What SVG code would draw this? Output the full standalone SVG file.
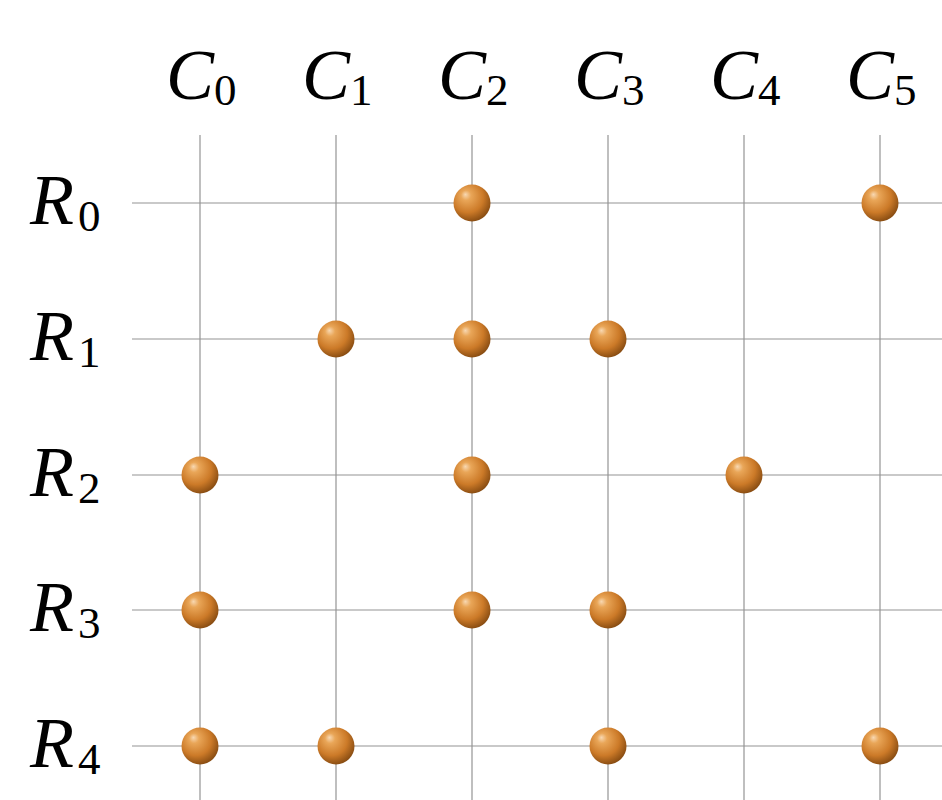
<svg xmlns="http://www.w3.org/2000/svg" width="942" height="800" viewBox="0 0 942 800">
<style>
.grid line{stroke:#949494;stroke-width:1.2}
.lbl{font-family:"Liberation Serif","DejaVu Serif",serif;font-size:72px;fill:#000}
.main{font-style:italic}
.sub{font-size:45px}
.ball{fill:url(#bg)}
</style>
<defs>
<radialGradient id="bg" cx="0.42" cy="0.38" r="0.68" fx="0.32" fy="0.27">
<stop offset="0" stop-color="#f8d8b2"/>
<stop offset="0.2" stop-color="#e9a658"/>
<stop offset="0.62" stop-color="#cc7a28"/>
<stop offset="1" stop-color="#7c440e"/>
</radialGradient>
</defs>
<rect width="942" height="800" fill="#fff"/>
<g id="connectors" class="grid">
<line x1="200" y1="135" x2="200" y2="800"/>
<line x1="336" y1="135" x2="336" y2="800"/>
<line x1="472" y1="135" x2="472" y2="800"/>
<line x1="608" y1="135" x2="608" y2="800"/>
<line x1="744" y1="135" x2="744" y2="800"/>
<line x1="880" y1="135" x2="880" y2="800"/>
<line x1="132" y1="203" x2="942" y2="203"/>
<line x1="132" y1="339" x2="942" y2="339"/>
<line x1="132" y1="475" x2="942" y2="475"/>
<line x1="132" y1="610" x2="942" y2="610"/>
<line x1="132" y1="746" x2="942" y2="746"/>
</g>
<g id="col-labels">
<text id="C0" class="lbl" x="166" y="99"><tspan class="main">C</tspan><tspan class="sub" dy="6">0</tspan></text>
<text id="C1" class="lbl" x="302" y="99"><tspan class="main">C</tspan><tspan class="sub" dy="6">1</tspan></text>
<text id="C2" class="lbl" x="438" y="99"><tspan class="main">C</tspan><tspan class="sub" dy="6">2</tspan></text>
<text id="C3" class="lbl" x="574" y="99"><tspan class="main">C</tspan><tspan class="sub" dy="6">3</tspan></text>
<text id="C4" class="lbl" x="710" y="99"><tspan class="main">C</tspan><tspan class="sub" dy="6">4</tspan></text>
<text id="C5" class="lbl" x="846" y="99"><tspan class="main">C</tspan><tspan class="sub" dy="6">5</tspan></text>
</g>
<g id="row-labels">
<text id="R0" class="lbl" x="30" y="224"><tspan class="main">R</tspan><tspan class="sub" dx="4" dy="7">0</tspan></text>
<text id="R1" class="lbl" x="30" y="360"><tspan class="main">R</tspan><tspan class="sub" dx="4" dy="7">1</tspan></text>
<text id="R2" class="lbl" x="30" y="496"><tspan class="main">R</tspan><tspan class="sub" dx="4" dy="7">2</tspan></text>
<text id="R3" class="lbl" x="30" y="631"><tspan class="main">R</tspan><tspan class="sub" dx="4" dy="7">3</tspan></text>
<text id="R4" class="lbl" x="30" y="767"><tspan class="main">R</tspan><tspan class="sub" dx="4" dy="7">4</tspan></text>
</g>
<g id="balls">
<circle id="b-0-2" class="ball" cx="472" cy="203" r="18.5"/>
<circle id="b-0-5" class="ball" cx="880" cy="203" r="18.5"/>
<circle id="b-1-1" class="ball" cx="336" cy="339" r="18.5"/>
<circle id="b-1-2" class="ball" cx="472" cy="339" r="18.5"/>
<circle id="b-1-3" class="ball" cx="608" cy="339" r="18.5"/>
<circle id="b-2-0" class="ball" cx="200" cy="475" r="18.5"/>
<circle id="b-2-2" class="ball" cx="472" cy="475" r="18.5"/>
<circle id="b-2-4" class="ball" cx="744" cy="475" r="18.5"/>
<circle id="b-3-0" class="ball" cx="200" cy="610" r="18.5"/>
<circle id="b-3-2" class="ball" cx="472" cy="610" r="18.5"/>
<circle id="b-3-3" class="ball" cx="608" cy="610" r="18.5"/>
<circle id="b-4-0" class="ball" cx="200" cy="746" r="18.5"/>
<circle id="b-4-1" class="ball" cx="336" cy="746" r="18.5"/>
<circle id="b-4-3" class="ball" cx="608" cy="746" r="18.5"/>
<circle id="b-4-5" class="ball" cx="880" cy="746" r="18.5"/>
</g>
</svg>
